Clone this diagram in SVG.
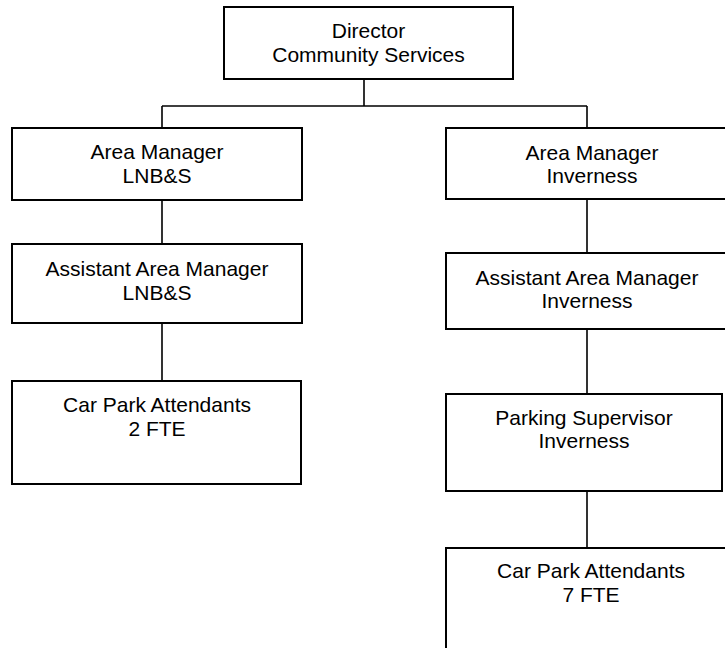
<svg xmlns="http://www.w3.org/2000/svg" width="725" height="648" viewBox="0 0 725 648">
<style>
.box{fill:#fff;stroke:#000;stroke-width:2}
.lbl{font-family:"Liberation Sans",Arial,sans-serif;font-size:21px;fill:#000;text-anchor:middle}
.con{fill:none;stroke:#000;stroke-width:1.6}
</style>
<rect width="725" height="648" fill="#fff"/>
<g id="connectors" class="con">
<path d="M364 79V106M162 106H587M162 106V128M587 106V128"/>
<path d="M162 200V244M162 323V381"/>
<path d="M587 199V253M587 329V394M587 491V548"/>
</g>
<g id="director">
<rect class="box" x="224" y="7" width="289" height="72"/>
<text class="lbl" x="368.5" y="38">Director</text>
<text class="lbl" x="368.5" y="62">Community Services</text>
</g>
<g id="am-lnbs">
<rect class="box" x="12" y="128" width="290" height="72"/>
<text class="lbl" x="157" y="159">Area Manager</text>
<text class="lbl" x="157" y="183">LNB&amp;S</text>
</g>
<g id="aam-lnbs">
<rect class="box" x="12" y="244" width="290" height="79"/>
<text class="lbl" x="157" y="276">Assistant Area Manager</text>
<text class="lbl" x="157" y="300">LNB&amp;S</text>
</g>
<g id="cpa-lnbs">
<rect class="box" x="12" y="381" width="289" height="103"/>
<text class="lbl" x="157" y="412">Car Park Attendants</text>
<text class="lbl" x="157" y="436">2 FTE</text>
</g>
<g id="am-inv">
<rect class="box" x="446" y="128" width="292" height="71"/>
<text class="lbl" x="592" y="160">Area Manager</text>
<text class="lbl" x="592" y="183">Inverness</text>
</g>
<g id="aam-inv">
<rect class="box" x="446" y="253" width="282" height="76"/>
<text class="lbl" x="587" y="285">Assistant Area Manager</text>
<text class="lbl" x="587" y="308">Inverness</text>
</g>
<g id="ps-inv">
<rect class="box" x="446" y="394" width="276" height="97"/>
<text class="lbl" x="584" y="425">Parking Supervisor</text>
<text class="lbl" x="584" y="448">Inverness</text>
</g>
<g id="cpa-inv">
<rect class="box" x="446" y="548" width="290" height="110"/>
<text class="lbl" x="591" y="578">Car Park Attendants</text>
<text class="lbl" x="591" y="602">7 FTE</text>
</g>
</svg>
